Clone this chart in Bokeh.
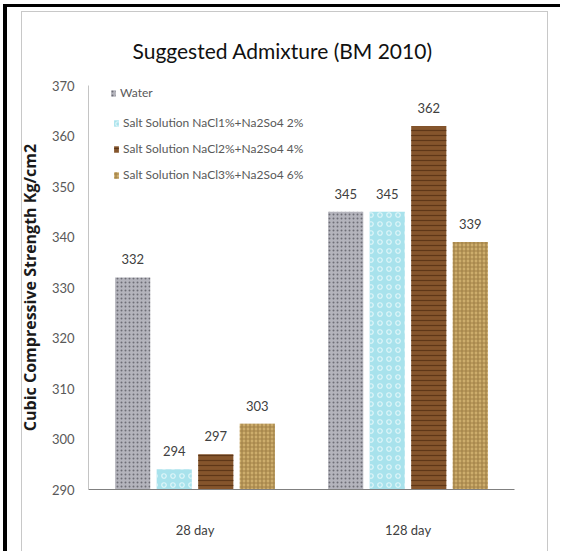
from bokeh.plotting import figure
from bokeh.layouts import column
from bokeh.models import ColumnDataSource, FactorRange, Range1d, LabelSet, Legend, LegendItem
from bokeh.transform import dodge
from bokeh.core.properties import value
from bokeh.embed import file_html
from bokeh.resources import INLINE

# ---- data ----
categories = ["28 day", "128 day"]
series_names = [
    "Water",
    "Salt Solution NaCl1%+Na2So4 2%",
    "Salt Solution NaCl2%+Na2So4 4%",
    "Salt Solution NaCl3%+Na2So4 6%",
]
water = [332, 345]
salt_1_2 = [294, 345]
salt_2_4 = [297, 362]
salt_3_6 = [303, 339]
y_ticks = [290, 300, 310, 320, 330, 340, 350, 360, 370]
Y_MIN, Y_MAX = 290, 370

series_values = [water, salt_1_2, salt_2_4, salt_3_6]

# ---- styles ----
offsets = [-0.2925, -0.0975, 0.0975, 0.2925]
bar_width = 0.165
fills = ["#b4b4bc", "#a8e2ec", "#85552c", "#cdad6c"]
hatches = ["dot", "ring", "horizontal_line", "cross"]
hatch_colors = ["#66666f", "#e4f7fa", "#5a3416", "#9c7c42"]
hatch_scales = [4, 9, 5, 4]

FONT = "Lato"

fig = figure(
    width=532, height=539,
    x_range=FactorRange(*categories, range_padding=0),
    y_range=Range1d(Y_MIN, Y_MAX),
    output_backend="svg", toolbar_location=None,
    min_border_left=70, min_border_right=26, min_border_top=72, min_border_bottom=62,
)
fig.styles = {"margin-left": "-7px"}

fig.title.text = "Suggested Admixture (BM 2010)"
fig.title.align = "left"
fig.title.offset = 44
fig.title.standoff = 46
fig.title.text_font = FONT
fig.title.text_font_size = "21px"
fig.title.text_font_style = "normal"
fig.title.text_color = "#111111"

fig.outline_line_color = None
fig.xgrid.grid_line_color = None
fig.ygrid.grid_line_color = None
fig.background_fill_color = "white"
fig.border_fill_alpha = 0

src = ColumnDataSource(dict(
    cat=categories,
    v0=series_values[0], v1=series_values[1], v2=series_values[2], v3=series_values[3],
    l0=[str(v) for v in series_values[0]],
    l1=[str(v) for v in series_values[1]],
    l2=[str(v) for v in series_values[2]],
    l3=[str(v) for v in series_values[3]],
))

renderers = []
for i in range(4):
    r = fig.vbar(
        x=dodge("cat", offsets[i], range=fig.x_range), top=f"v{i}", bottom=Y_MIN,
        width=bar_width, source=src,
        fill_color=fills[i], line_color=None,
        hatch_pattern=hatches[i], hatch_color=hatch_colors[i],
        hatch_scale=hatch_scales[i], hatch_weight=1.2, hatch_alpha=0.9,
    )
    renderers.append(r)
    labels = LabelSet(
        x=dodge("cat", offsets[i], range=fig.x_range), y=f"v{i}", text=f"l{i}",
        source=src, text_align="center", text_baseline="bottom", y_offset=13,
        text_font=value(FONT), text_font_size=value("13px"), text_color="#404040",
    )
    fig.add_layout(labels)

leg1 = Legend(items=[LegendItem(label=series_names[0], renderers=[renderers[0]])],
              location=(22, 389))
leg2 = Legend(items=[LegendItem(label=series_names[i], renderers=[renderers[i]]) for i in range(1, 4)],
              location=(25, 307))
for lg in (leg1, leg2):
    lg.glyph_width = 6
    lg.glyph_height = 8
    lg.label_standoff = 4
    lg.spacing = 11
    lg.padding = 0
    lg.margin = 0
    lg.border_line_color = None
    lg.background_fill_alpha = 0
    lg.label_text_font = FONT
    lg.label_text_font_size = "12px"
    lg.label_text_color = "#595959"
    lg.label_height = 14
    fig.add_layout(lg, "center")

# axes
fig.yaxis.ticker = y_ticks
fig.yaxis.axis_label = "Cubic Compressive Strength Kg/cm2"
fig.yaxis.axis_label_text_font = "Open Sans"
fig.yaxis.axis_label_text_font_style = "bold"
fig.yaxis.axis_label_text_font_size = "16px"
fig.yaxis.axis_label_text_color = "#1a1a1a"
fig.yaxis.axis_label_standoff = 8
fig.yaxis.major_label_text_font = FONT
fig.yaxis.major_label_text_font_size = "13px"
fig.yaxis.major_label_text_color = "#595959"
fig.yaxis.major_label_standoff = 14
fig.yaxis.major_tick_out = 0
fig.yaxis.major_tick_in = 0
fig.yaxis.minor_tick_out = 0
fig.yaxis.minor_tick_in = 0
fig.yaxis.axis_line_color = "#c4c4c4"

fig.xaxis.major_label_text_font = FONT
fig.xaxis.major_label_text_font_size = "13px"
fig.xaxis.major_label_text_color = "#404040"
fig.xaxis.major_label_standoff = 32
fig.xaxis.major_tick_out = 0
fig.xaxis.major_tick_in = 0
fig.xaxis.axis_line_color = "#808080"

# light grey chart-area frame, inside an outer black frame (left and top)
inner = column(fig, styles={
    "border": "1px solid #c8c8c8",
    "border-bottom": "none",
    "margin-left": "14px",
    "margin-top": "4px",
})
p = column(inner, styles={
    "border-left": "4px solid #000000",
    "border-top": "3px solid #000000",
    "margin-left": "3px",
    "margin-top": "4px",
    "padding-right": "12px",
})

open("out.html", "w").write(file_html(p, INLINE))
